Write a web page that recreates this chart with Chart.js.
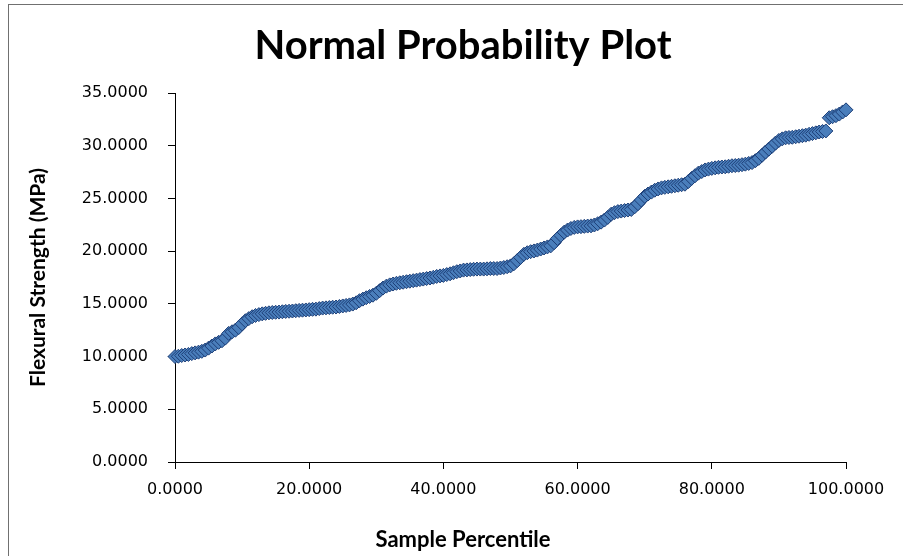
<!DOCTYPE html>
<html>
<head>
<meta charset="utf-8">
<title>Normal Probability Plot</title>
<script src="https://cdn.jsdelivr.net/npm/chart.js@4.4.1/dist/chart.umd.min.js"></script>
<style>
  html, body { margin: 0; padding: 0; background: #fff; }
  #plot { display: block; }
</style>
</head>
<body>
<canvas id="plot" width="903" height="556"></canvas>
<script>
// sample percentile of each ranked specimen
const percentile = [
  0, 0.5, 1, 1.5, 2, 2.5, 3, 3.5, 4, 4.5,
  5, 5.5, 6, 6.5, 7, 7.5, 8, 8.5, 9, 9.5,
  10, 10.5, 11, 11.5, 12, 12.5, 13, 13.5, 14, 14.5,
  15, 15.5, 16, 16.5, 17, 17.5, 18, 18.5, 19, 19.5,
  20, 20.5, 21, 21.5, 22, 22.5, 23, 23.5, 24, 24.5,
  25, 25.5, 26, 26.5, 27, 27.5, 28, 28.5, 29, 29.5,
  30, 30.5, 31, 31.5, 32, 32.5, 33, 33.5, 34, 34.5,
  35, 35.5, 36, 36.5, 37, 37.5, 38, 38.5, 39, 39.5,
  40, 40.5, 41, 41.5, 42, 42.5, 43, 43.5, 44, 44.5,
  45, 45.5, 46, 46.5, 47, 47.5, 48, 48.5, 49, 49.5,
  50, 50.5, 51, 51.5, 52, 52.5, 53, 53.5, 54, 54.5,
  55, 55.5, 56, 56.5, 57, 57.5, 58, 58.5, 59, 59.5,
  60, 60.5, 61, 61.5, 62, 62.5, 63, 63.5, 64, 64.5,
  65, 65.5, 66, 66.5, 67, 67.5, 68, 68.5, 69, 69.5,
  70, 70.5, 71, 71.5, 72, 72.5, 73, 73.5, 74, 74.5,
  75, 75.5, 76, 76.5, 77, 77.5, 78, 78.5, 79, 79.5,
  80, 80.5, 81, 81.5, 82, 82.5, 83, 83.5, 84, 84.5,
  85, 85.5, 86, 86.5, 87, 87.5, 88, 88.5, 89, 89.5,
  90, 90.5, 91, 91.5, 92, 92.5, 93, 93.5, 94, 94.5,
  95, 95.5, 96, 96.5, 97, 97.5, 98, 98.5, 99, 99.5,
  100
];

// flexural strength in MPa, sorted ascending
const strength = [
  10.00, 10.03, 10.10, 10.15, 10.20, 10.28, 10.35, 10.42, 10.50, 10.62,
  10.80, 11.00, 11.20, 11.35, 11.50, 11.75, 12.20, 12.35, 12.50, 12.75,
  13.10, 13.40, 13.60, 13.78, 13.90, 13.98, 14.05, 14.10, 14.15, 14.18,
  14.20, 14.22, 14.25, 14.28, 14.30, 14.32, 14.35, 14.38, 14.40, 14.42,
  14.45, 14.48, 14.50, 14.55, 14.60, 14.62, 14.65, 14.68, 14.70, 14.75,
  14.80, 14.85, 14.90, 14.98, 15.10, 15.30, 15.45, 15.58, 15.70, 15.82,
  16.00, 16.25, 16.50, 16.68, 16.80, 16.88, 16.95, 17.00, 17.05, 17.10,
  17.15, 17.20, 17.25, 17.30, 17.35, 17.40, 17.45, 17.52, 17.60, 17.65,
  17.70, 17.78, 17.85, 17.95, 18.05, 18.12, 18.20, 18.22, 18.25, 18.28,
  18.30, 18.30, 18.30, 18.32, 18.35, 18.35, 18.35, 18.40, 18.45, 18.52,
  18.60, 18.80, 19.10, 19.40, 19.70, 19.85, 19.95, 20.02, 20.10, 20.20,
  20.30, 20.40, 20.50, 20.80, 21.20, 21.50, 21.80, 22.00, 22.15, 22.25,
  22.30, 22.32, 22.35, 22.38, 22.40, 22.48, 22.60, 22.75, 22.95, 23.20,
  23.50, 23.65, 23.75, 23.80, 23.85, 23.90, 23.95, 24.20, 24.50, 24.85,
  25.20, 25.42, 25.60, 25.78, 25.90, 26.00, 26.05, 26.10, 26.15, 26.20,
  26.25, 26.30, 26.35, 26.60, 26.90, 27.15, 27.40, 27.55, 27.70, 27.78,
  27.85, 27.90, 27.95, 27.98, 28.00, 28.05, 28.10, 28.12, 28.15, 28.20,
  28.25, 28.32, 28.40, 28.58, 28.80, 29.10, 29.40, 29.68, 29.95, 30.25,
  30.50, 30.65, 30.75, 30.78, 30.80, 30.85, 30.90, 30.95, 31.00, 31.08,
  31.15, 31.22, 31.30, 31.35, 31.40, 32.65, 32.75, 32.85, 33.00, 33.20,
  33.40
];

const xTicks = [0, 20, 40, 60, 80, 100];
const yTicks = [0, 5, 10, 15, 20, 25, 30, 35];

const points = percentile.map((p, i) => ({ x: p, y: strength[i] }));

// white page with the thin frame round the chart
const frame = {
  id: "frame",
  beforeDraw(chart) {
    const { ctx, width, height } = chart;
    ctx.save();
    ctx.fillStyle = "#fff";
    ctx.fillRect(0, 0, width, height);
    ctx.strokeStyle = "#707070";
    ctx.lineWidth = 1;
    ctx.strokeRect(8.5, 4.5, width + 10, height + 10);
    ctx.restore();
  },
};

// the chart title and the x-axis caption sit centred on the whole frame,
// not on the plot area, so nudge both title blocks to the right
const centreTitles = {
  id: "centreTitles",
  afterLayout(chart) {
    for (const box of chart.boxes) {
      if (!box.axis && box.options && box.options.text) {
        box.left += 40;
        box.right += 40;
      }
    }
  },
};

const tickFont = { family: "'DejaVu Sans', Verdana, sans-serif", size: 16 };
const captionFamily = "Lato, Calibri, sans-serif";

const axisGrid = {
  display: true,
  drawOnChartArea: false,
  drawTicks: true,
  tickLength: 7,
  color: "#000",
};

new Chart(document.getElementById("plot"), {
  type: "scatter",
  data: {
    datasets: [{
      label: "Flexural Strength",
      data: points,
      showLine: false,
      pointStyle: "rectRot",
      pointRadius: 7,
      pointHoverRadius: 7,
      pointBorderWidth: 1,
      backgroundColor: "#4a7ebb",
      borderColor: "#1d3f78",
      clip: false,
    }],
  },
  plugins: [frame, centreTitles],
  options: {
    responsive: false,
    animation: false,
    events: [],
    layout: { padding: { left: 0, top: 0, right: 57, bottom: 0 } },
    plugins: {
      legend: { display: false },
      tooltip: { enabled: false },
      title: {
        display: true,
        text: "Normal Probability Plot",
        color: "#000",
        font: { family: captionFamily, size: 40, weight: "bold" },
        padding: { top: 22, bottom: 23 },
      },
      // x-axis caption, drawn below the tick labels
      subtitle: {
        display: true,
        position: "bottom",
        text: "Sample Percentile",
        color: "#000",
        font: { family: captionFamily, size: 22, weight: "bold" },
        padding: { top: 0, bottom: 3 },
      },
    },
    scales: {
      x: {
        type: "linear",
        min: 0,
        max: 100,
        afterBuildTicks: (s) => { s.ticks = xTicks.map((v) => ({ value: v })); },
        afterFit: (s) => { s.height = 64.6; },
        ticks: {
          color: "#000",
          font: tickFont,
          padding: 11,
          maxRotation: 0,
          callback: (v) => v.toFixed(4),
        },
        grid: axisGrid,
        border: { display: true, color: "#000", width: 1 },
      },
      y: {
        type: "linear",
        min: 0,
        max: 35,
        afterBuildTicks: (s) => { s.ticks = yTicks.map((v) => ({ value: v })); },
        afterFit: (s) => { s.width = 175; },
        ticks: {
          color: "#000",
          font: tickFont,
          padding: 20,
          callback: (v) => v.toFixed(4),
        },
        grid: axisGrid,
        border: { display: true, color: "#000", width: 1 },
        title: {
          display: true,
          text: "Flexural Strength (MPa)",
          color: "#000",
          font: { family: captionFamily, size: 21, weight: "bold" },
          padding: { top: 26, bottom: 26 },
        },
      },
    },
  },
});
</script>
</body>
</html>
